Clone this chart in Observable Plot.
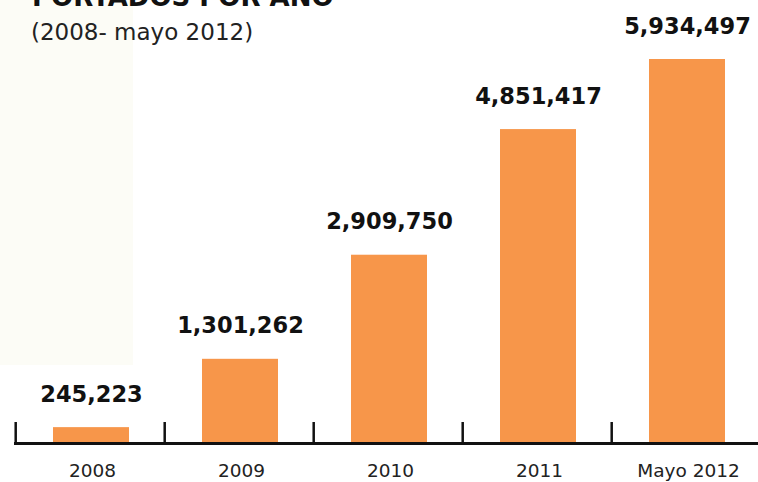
<!DOCTYPE html>
<html>
<head>
<meta charset="utf-8">
<script src="https://cdn.jsdelivr.net/npm/d3@7"></script>
<script src="https://cdn.jsdelivr.net/npm/@observablehq/plot@0.6"></script>
<style>
  html, body { margin: 0; padding: 0; background: #ffffff; overflow: hidden; }
  #wrap { position: relative; width: 758px; height: 482px; }
  #bgpatch { position: absolute; left: 0; top: 0; width: 133px; height: 365px; background: #fcfcf6; }
  #title { position: absolute; left: 32px; top: -16px; font: bold 26px "DejaVu Sans"; line-height: 1; color: #111; white-space: nowrap; }
  #subtitle { position: absolute; left: 31px; top: 21px; font: 23px "DejaVu Sans"; line-height: 1; color: #222; white-space: nowrap; }
  #chart { position: absolute; left: 0; top: 0; }
</style>
</head>
<body>
<div id="wrap">
  <div id="bgpatch"></div>
  <div id="chart"></div>
  <div id="title">PORTADOS POR AÑO</div>
  <div id="subtitle">(2008- mayo 2012)</div>
</div>
<script>
const categories = ["2008", "2009", "2010", "2011", "Mayo 2012"];
const values = [245223, 1301262, 2909750, 4851417, 5934497];
const valueLabels = ["245,223", "1,301,262", "2,909,750", "4,851,417", "5,934,497"];

const data = categories.map((c, i) => ({cat: c, value: values[i], label: valueLabels[i]}));
const maxV = d3.max(values);
const tickLen = maxV * 21 / 384;

const plot = Plot.plot({
  width: 758,
  height: 482,
  marginTop: 59,
  marginBottom: 39,
  marginLeft: 14,
  marginRight: 0,
  style: {background: "transparent", fontFamily: "DejaVu Sans", color: "#111"},
  x: {domain: categories, range: [14, 762], paddingInner: 0.49, paddingOuter: 0.245},
  y: {domain: [0, maxV], axis: null},
  marks: [
    Plot.barY(data, {x: "cat", y: "value", fill: "#F7964A", dx: 1}),
    Plot.ruleX(data, {x: "cat", dx: -74.8, y1: 0, y2: tickLen, stroke: "#111", strokeWidth: 2.5}),
    Plot.ruleY([0], {stroke: "#111", strokeWidth: 3}),
    Plot.text(data, {x: "cat", y: "value", text: "label", dx: 1, dy: -26, lineAnchor: "bottom", fontSize: 22.5, fontWeight: "bold", fill: "#111"}),
    Plot.axisX({tickSize: 0, tickPadding: 20, fontSize: 18.5, dx: 2, label: null, fill: "#222"})
  ]
});
document.getElementById("chart").appendChild(plot);
</script>
</body>
</html>
